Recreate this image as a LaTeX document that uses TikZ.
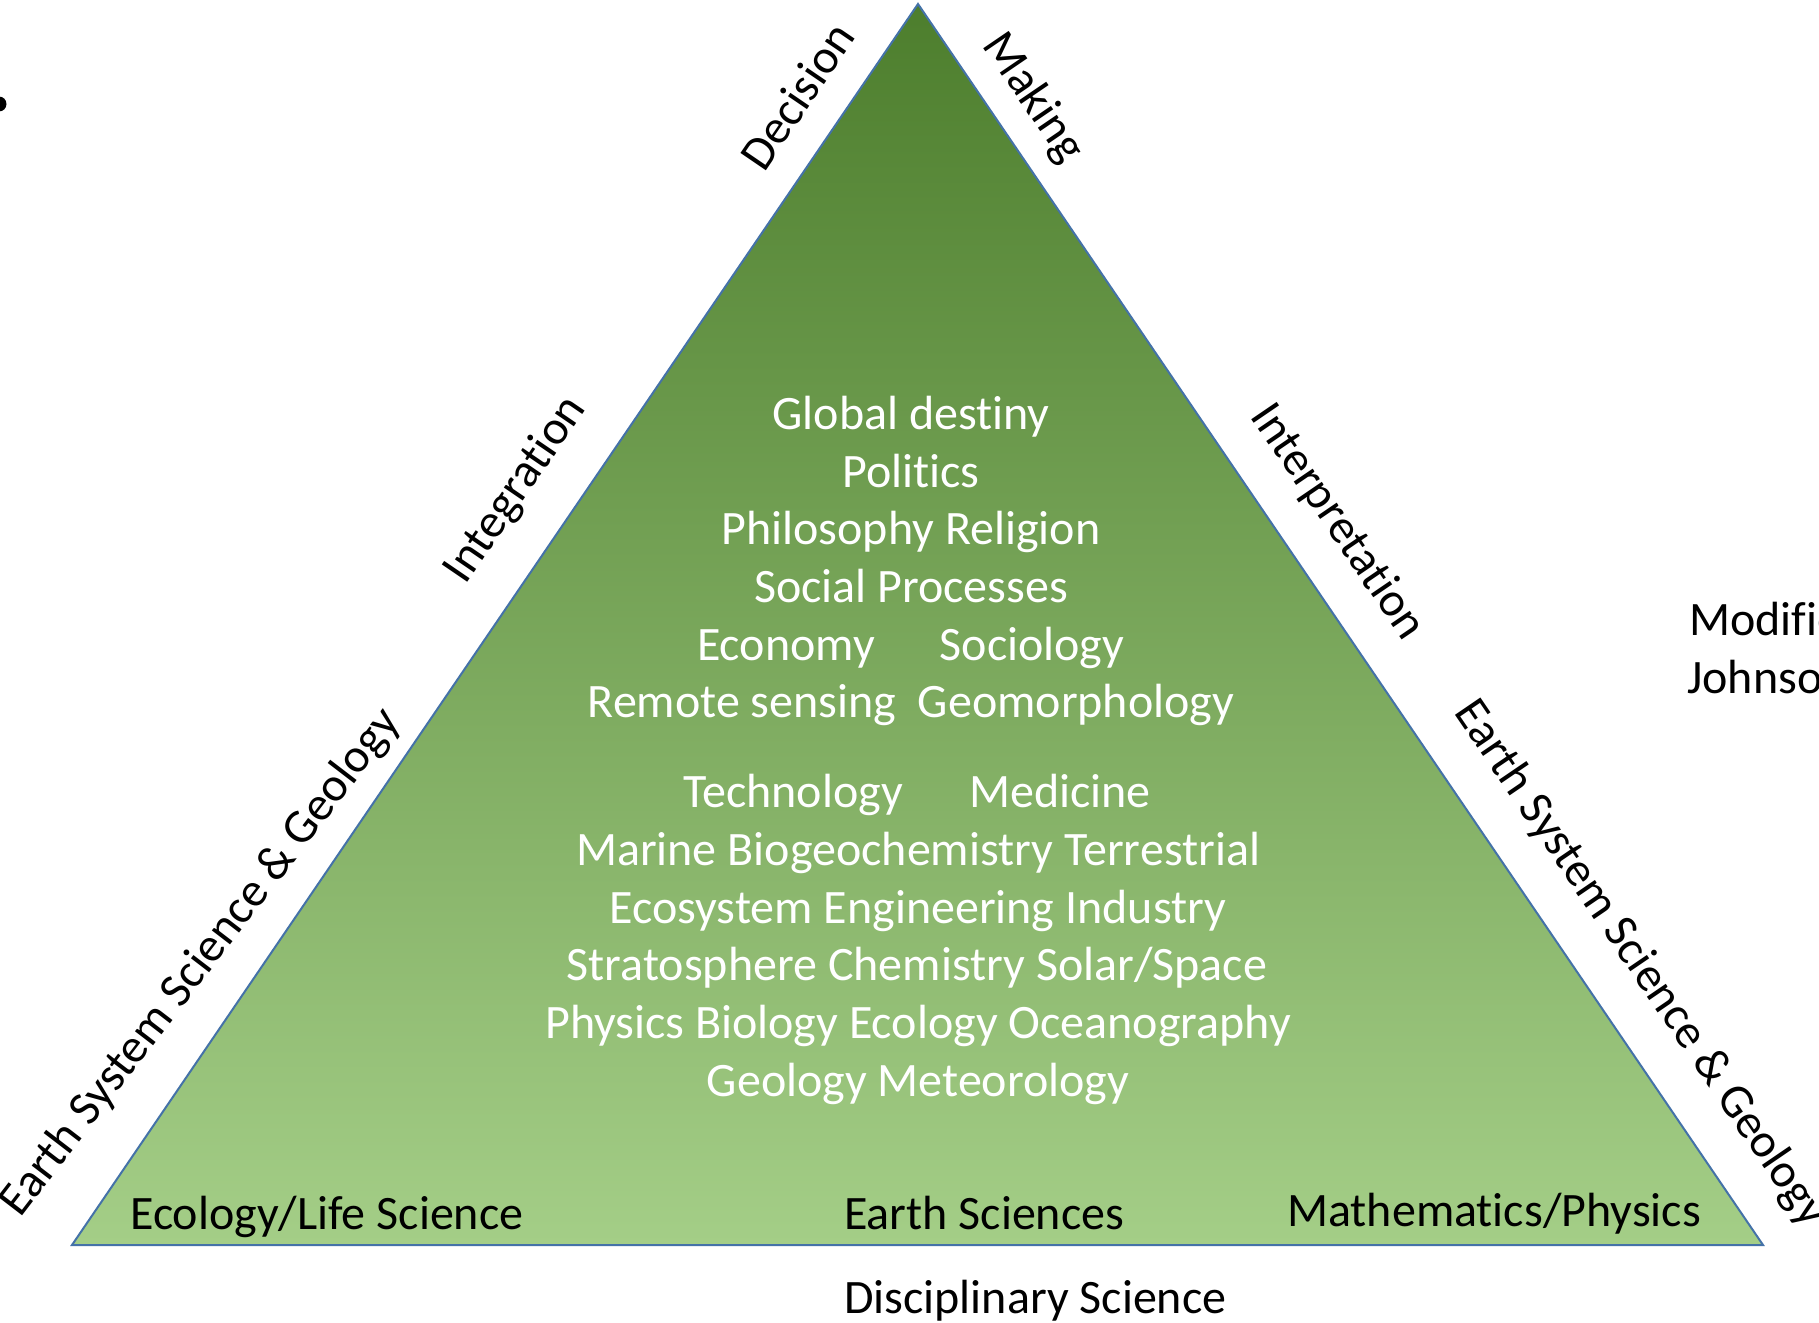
\documentclass[tikz,border=0pt]{standalone}
\usepackage{fontspec}
\setmainfont{Carlito}[Ligatures={NoCommon,NoRequired,NoContextual}]
\begin{document}
\begin{tikzpicture}[x=1pt,y=-1pt,
  lbl/.style={inner sep=0pt, font=\fontsize{48}{58}\selectfont},
  inlbl/.style={lbl, text=white, anchor=base},
  baselbl/.style={lbl, anchor=base west},
  edgelbl/.style={lbl}]
\useasboundingbox (0,0) rectangle (1819,1322);

\definecolor{gTop}{HTML}{4D7E2D}
\definecolor{gMid}{HTML}{72AE4C}
\definecolor{gBot}{HTML}{A4CE87}
\definecolor{rim}{HTML}{4472A8}

% corners of the pyramid
\coordinate (apex) at (918,4);
\coordinate (bl) at (72,1245);
\coordinate (br) at (1763,1245);

\shade[top color=gTop, middle color=gMid, bottom color=gBot]
  (apex) -- (br) -- (bl) -- cycle;
\draw[rim, line width=2pt, line join=miter] (apex) -- (br) -- (bl) -- cycle;

% stray bullet at the left margin
\fill[black] (-1,104) circle (7.5);

% upper block of disciplines
\node[inlbl] (l1) at (911,429) {Global destiny};
\node[inlbl] (l2) at (911,487) {Politics};
\node[inlbl] (l3) at (911,544) {Philosophy Religion};
\node[inlbl] (l4) at (911,602) {Social Processes};
\node[inlbl] (l5a) at (786,660) {Economy};
\node[inlbl] (l5b) at (1032,660) {Sociology};
\node[inlbl] (l6) at (911,717) {Remote sensing\hspace{0.45em}Geomorphology};

% lower block of disciplines
\node[inlbl] (m1a) at (793,807) {Technology};
\node[inlbl] (m1b) at (1060,807) {Medicine};
\node[inlbl] (m2) at (918,865) {Marine Biogeochemistry Terrestrial};
\node[inlbl] (m3) at (918,923) {Ecosystem Engineering Industry};
\node[inlbl] (m4) at (917,980) {Stratosphere Chemistry Solar/Space};
\node[inlbl] (m5) at (918,1038) {Physics Biology Ecology Oceanography};
\node[inlbl] (m6) at (918,1096) {Geology Meteorology};

% base labels
\node[baselbl] (eco) at (130,1229) {Ecology/Life Science};
\node[baselbl] (earth) at (844,1229) {Earth Sciences};
\node[baselbl] (math) at (1287,1226) {Mathematics/Physics};
\node[baselbl] (disc) at (844,1313) {Disciplinary Science};

% labels along the sides
\node[edgelbl, rotate=55.7] (dec) at (797,96) {Decision};
\node[edgelbl, rotate=-55.7] (mak) at (1033,98) {Making};
\node[edgelbl, rotate=55.7] (integ) at (516,490) {Integration};
\node[edgelbl, rotate=52.5] (essl) at (201,963) {Earth System Science \& Geology};
\node[edgelbl, rotate=-55.7] (interp) at (1337,522) {Interpretation};
\node[edgelbl, rotate=-55.7] (essr) at (1640,964) {Earth System Science \& Geology};

% source note at the right margin
\node[baselbl] (mod) at (1689,635) {Modified};
\node[baselbl] (john) at (1687,693) {Johnson};
\end{tikzpicture}
\end{document}
